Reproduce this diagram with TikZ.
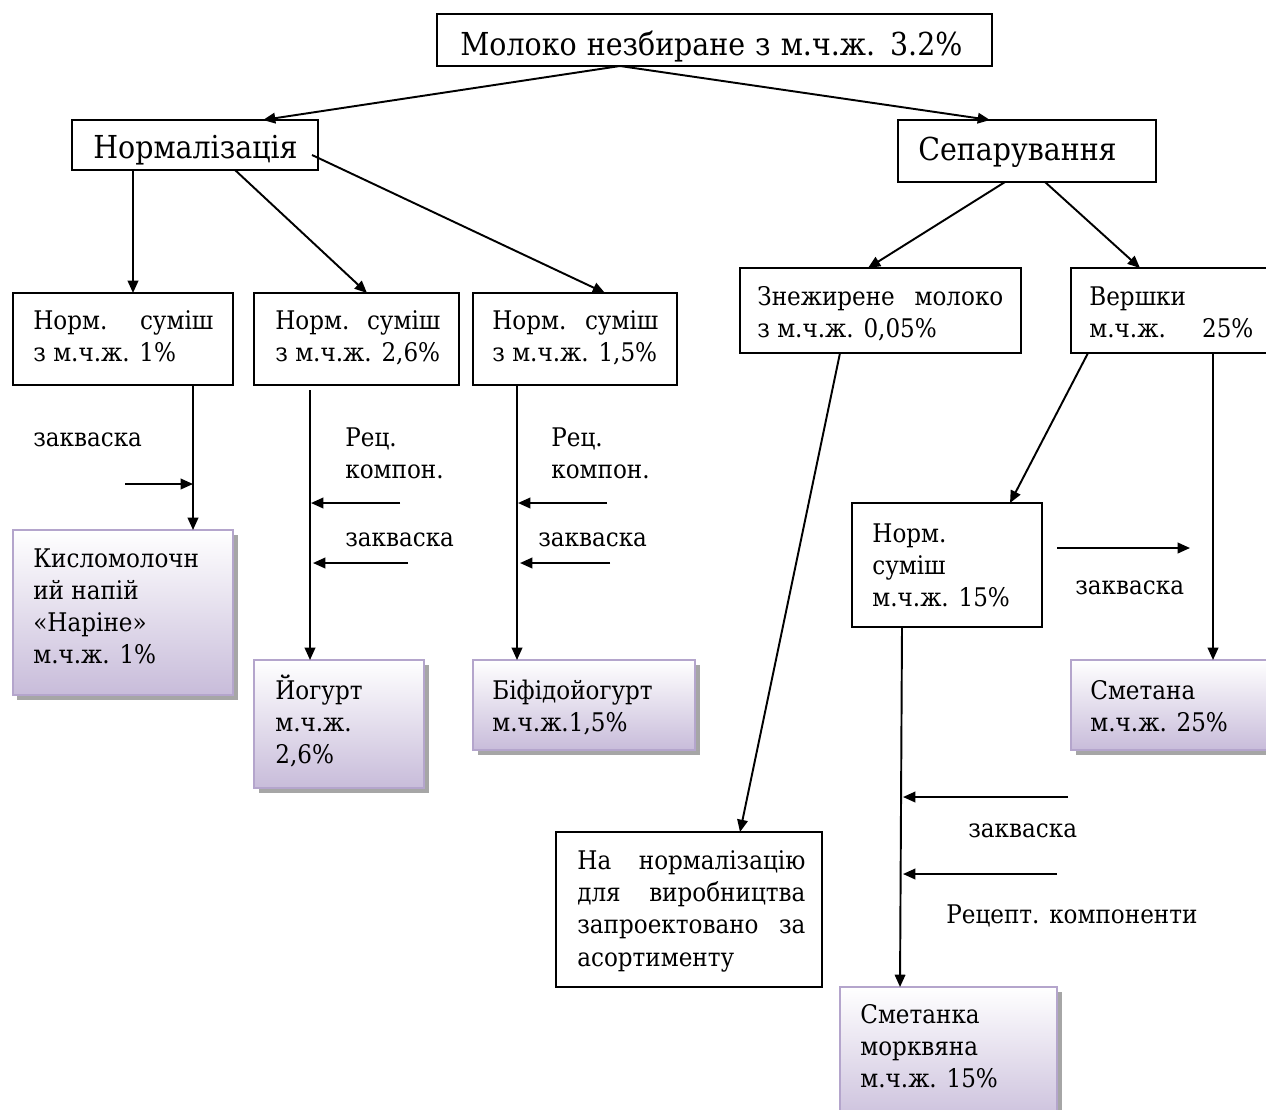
\documentclass[tikz,border=0pt]{standalone}
\usepackage{fontspec}
\setmainfont{DejaVu Serif Condensed}
\usetikzlibrary{arrows.meta,shadows}
\definecolor{pbot}{HTML}{C8BCDA}
\definecolor{pline}{HTML}{B4A5CC}
\tikzset{
  box/.style={draw=black, line width=1.2pt, fill=white, rectangle, inner sep=0pt, outer sep=0pt},
  pbox/.style={draw=pline, line width=1.2pt, top color=white, bottom color=pbot, rectangle, inner sep=0pt, outer sep=0pt,
    drop shadow={shadow xshift=0.09cm, shadow yshift=-0.09cm, fill=black!50, opacity=0.7}},
  conn/.style={line width=1.1pt, -{Triangle[length=7pt,width=6pt]}},
  txt/.style={anchor=base west, inner sep=0pt, font=\rmfamily\fontsize{14.6}{18.4}\selectfont},
  big/.style={anchor=base west, inner sep=0pt, font=\rmfamily\fontsize{18}{24}\selectfont},
}
\newcommand\mybox[6]{\node[#1, anchor=north west, minimum width={(#4-#2)*0.02cm}, minimum height={(#5-#3)*0.02cm}] (#6) at (#2,#3) {};}
\newcommand\tl[1]{\parbox[t]{6cm}{\raggedright #1}}
\begin{document}
\begin{tikzpicture}[x=0.02cm,y=-0.02cm]
\useasboundingbox (0,0) rectangle (1266,1109);
\clip (0,0) rectangle (1266,1109);
% boxes
\mybox{box}{437}{14}{992}{66}{t}
\mybox{box}{72}{120}{318}{170}{norm}
\mybox{box}{898}{120}{1156}{182}{sep}
\mybox{box}{13}{293}{233}{385}{a1}
\mybox{box}{254}{293}{459}{385}{a2}
\mybox{box}{473}{293}{677}{385}{a3}
\mybox{box}{740}{268}{1021}{353}{b1}
\mybox{box}{1071}{268}{1290}{353}{b2}
\mybox{box}{852}{503}{1042}{627}{m15}
\mybox{box}{556}{832}{822}{987}{nn}
\mybox{pbox}{13}{530}{233}{695}{p1}
\mybox{pbox}{254}{660}{424}{788}{p2}
\mybox{pbox}{473}{660}{695}{750}{p3}
\mybox{pbox}{1071}{660}{1290}{750}{s25}
\mybox{pbox}{840}{987}{1057}{1130}{s15}
% texts
\node[big] (tt) at (460,55) {\makebox[10.04cm][s]{Молоко незбиране з м.ч.ж. 3.2\%}};
\node[big] (tn) at (93,158) {Нормалізація};
\node[big] (ts) at (918,160) {Сепарування};
\node[txt] (ta1) at (33,329) {\tl{\makebox[3.6cm][s]{Норм. суміш}\\з м.ч.ж. 1\%}};
\node[txt] (ta2) at (275,329) {\tl{\makebox[3.3cm][s]{Норм. суміш}\\з м.ч.ж. 2,6\%}};
\node[txt] (ta3) at (492,329) {\tl{\makebox[3.32cm][s]{Норм. суміш}\\з м.ч.ж. 1,5\%}};
\node[txt] (tb1) at (757,305) {\tl{\makebox[4.92cm][s]{Знежирене молоко}\\з м.ч.ж. 0,05\%}};
\node[txt] (tb2) at (1089,305) {\tl{Вершки\\\makebox[3.28cm][s]{м.ч.ж. 25\%}}};
\node[txt] (tp1) at (33,567) {\tl{Кисломолочн\\ий напій\\«Наріне»\\м.ч.ж. 1\%}};
\node[txt] (tp2) at (275,699) {\tl{Йогурт\\м.ч.ж.\\2,6\%}};
\node[txt] (tp3) at (492,699) {\tl{Біфідойогурт\\м.ч.ж.1,5\%}};
\node[txt] (tm) at (872,542) {\tl{Норм.\\суміш\\м.ч.ж. 15\%}};
\node[txt] (tsm) at (1090,699) {\tl{Сметана\\м.ч.ж. 25\%}};
\node[txt] (tnn) at (577,869) {\tl{\makebox[4.56cm][s]{На нормалізацію}\\\makebox[4.56cm][s]{для виробництва}\\\makebox[4.56cm][s]{запроектовано за}\\асортименту}};
\node[txt] (tsk) at (860,1023) {\tl{Сметанка\\морквяна\\м.ч.ж. 15\%}};
% labels
\node[txt] (l1) at (33,446) {закваска};
\node[txt] (l2) at (345,446) {\tl{Рец.\\компон.}};
\node[txt] (l3) at (345,546) {закваска};
\node[txt] (l4) at (551,446) {\tl{Рец.\\компон.}};
\node[txt] (l5) at (538,546) {закваска};
\node[txt] (l6) at (1075,594) {закваска};
\node[txt] (l7) at (968,837) {закваска};
\node[txt] (l8) at (946,923) {Рецепт. компоненти};
% connectors
\draw[conn] (620,0 |- t.south) -- (263,0 |- norm.north);
\draw[conn] (620,0 |- t.south) -- (990,0 |- sep.north);
\draw[conn] (133,0 |- norm.south) -- (133,0 |- a1.north);
\draw[conn] (235,0 |- norm.south) -- (367,0 |- a2.north);
\draw[conn] (312,155) -- (605,0 |- a3.north);
\draw[conn] (1005,0 |- sep.south) -- (868,0 |- b1.north);
\draw[conn] (1045,0 |- sep.south) -- (1140,0 |- b2.north);
\draw[conn] (193,0 |- a1.south) -- (193,0 |- p1.north);
\coordinate (k1) at (125,484); \coordinate (j1) at (193,484);
\draw[conn] (k1) -- (j1);
\draw[conn] (310,390) -- (310,0 |- p2.north);
\coordinate (k2) at (400,503); \coordinate (j2) at (311,503);
\coordinate (k3) at (408,563); \coordinate (j3) at (313,563);
\draw[conn] (k2) -- (j2);
\draw[conn] (k3) -- (j3);
\draw[conn] (517,0 |- a3.south) -- (517,0 |- p3.north);
\coordinate (k4) at (607,503); \coordinate (j4) at (518,503);
\coordinate (k5) at (610,563); \coordinate (j5) at (520,563);
\draw[conn] (k4) -- (j4);
\draw[conn] (k5) -- (j5);
\draw[conn] (840,0 |- b1.south) -- (740,0 |- nn.north);
\draw[conn] (1088,0 |- b2.south) -- (1010,0 |- m15.north);
\draw[conn] (1213,0 |- b2.south) -- (1213,0 |- s25.north);
\coordinate (k6) at (1057,548); \coordinate (j6) at (1190,548);
\draw[conn] (k6) -- (j6);
\draw[conn] (902,0 |- m15.south) -- (900,0 |- s15.north);
\coordinate (k7) at (1068,797); \coordinate (j7) at (903,797);
\coordinate (k8) at (1057,874); \coordinate (j8) at (903,874);
\draw[conn] (k7) -- (j7);
\draw[conn] (k8) -- (j8);
\end{tikzpicture}
\end{document}
